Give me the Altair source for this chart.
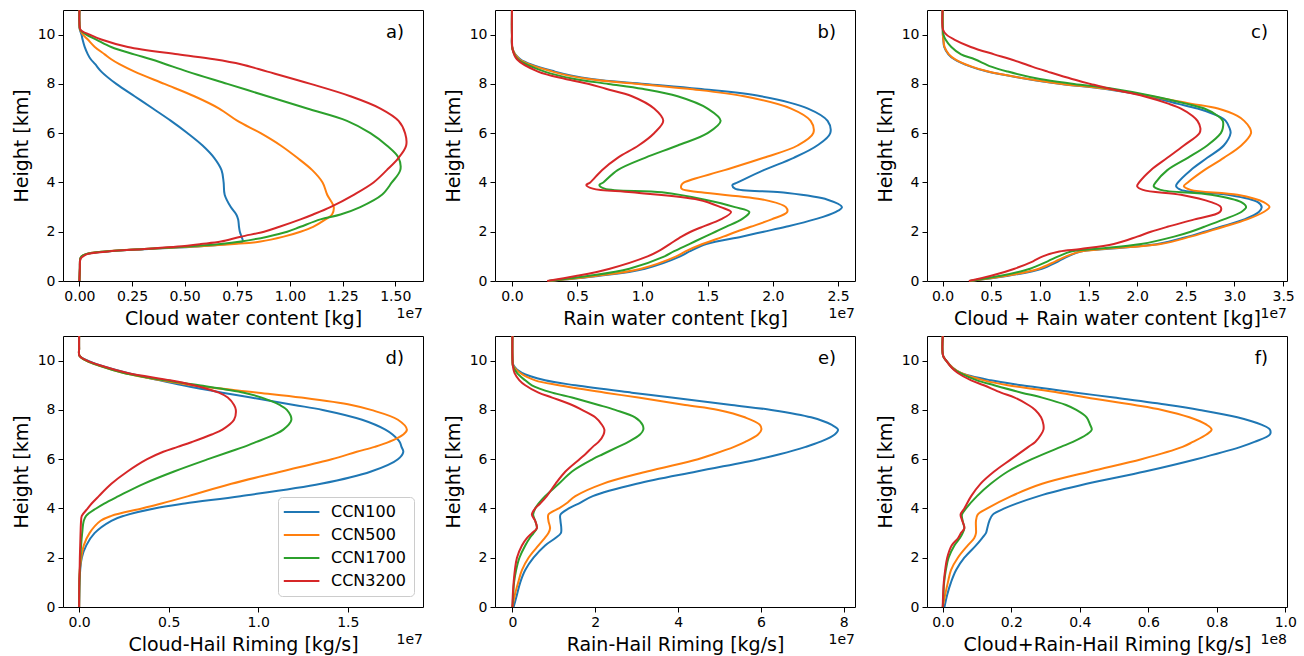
import altair as alt
import pandas as pd

SERIES = ["CCN100", "CCN500", "CCN1700", "CCN3200"]
COLORS = ["#1f77b4", "#ff7f0e", "#2ca02c", "#d62728"]

# ---------------- panel a: cloud water content (x 1e7 kg) ----------------
H_A = [11.0, 10.5, 10.2, 10.0, 9.8, 9.5, 9.2, 9.0, 8.8, 8.5, 8.0, 7.5, 7.0, 6.5, 6.0, 5.5, 5.0, 4.5,
       4.0, 3.5, 3.0, 2.7, 2.5, 2.2, 2.0, 1.8, 1.6, 1.5, 1.4, 1.3, 1.2, 1.1, 1.0, 0.9, 0.5, 0.0]
A_CCN100 = [0, 0, 0.002, 0.010, 0.015, 0.025, 0.040, 0.054, 0.075, 0.104, 0.175, 0.262, 0.349, 0.435,
            0.514, 0.585, 0.640, 0.675, 0.685, 0.690, 0.719, 0.745, 0.754, 0.758, 0.762, 0.770, 0.775,
            0.700, 0.560, 0.330, 0.130, 0.035, 0.010, 0.004, 0.002, 0]
A_CCN500 = [0, 0, 0.003, 0.017, 0.040, 0.073, 0.120, 0.151, 0.190, 0.262, 0.404, 0.546, 0.664, 0.751,
            0.861, 0.956, 1.035, 1.106, 1.155, 1.177, 1.208, 1.200, 1.169, 1.110, 1.050, 0.970, 0.860,
            0.735, 0.546, 0.309, 0.120, 0.033, 0.010, 0.004, 0.002, 0]
A_CCN1700 = [0, 0, 0.004, 0.033, 0.080, 0.151, 0.260, 0.340, 0.410, 0.514, 0.703, 0.893, 1.082, 1.271,
             1.382, 1.460, 1.516, 1.524, 1.484, 1.437, 1.334, 1.240, 1.145, 1.050, 0.987, 0.893, 0.767,
             0.672, 0.514, 0.309, 0.120, 0.035, 0.010, 0.004, 0.002, 0]
A_CCN3200 = [0, 0, 0.005, 0.049, 0.104, 0.230, 0.467, 0.640, 0.767, 0.893, 1.098, 1.287, 1.430, 1.516,
             1.547, 1.552, 1.516, 1.460, 1.397, 1.303, 1.192, 1.110, 1.050, 0.950, 0.877, 0.767, 0.672,
             0.577, 0.467, 0.309, 0.136, 0.040, 0.017, 0.005, 0.002, 0]

# ---------------- panel b: rain water content (x 1e7 kg) ----------------
H_B = [11.0, 10.0, 9.4, 9.0, 8.5, 8.2, 8.0, 7.8, 7.5, 7.0, 6.5, 6.0, 5.5, 5.0, 4.5, 4.0, 3.9, 3.75,
       3.6, 3.3, 3.0, 2.8, 2.5, 2.2, 2.0, 1.8, 1.5, 1.2, 1.0, 0.5, 0.2, 0.0]
B_CCN100 = [0, 0, 0.005, 0.064, 0.33, 0.61, 1.02, 1.43, 1.91, 2.27, 2.42, 2.44, 2.34, 2.16, 1.93, 1.73,
            1.69, 1.71, 2.06, 2.42, 2.53, 2.48, 2.32, 2.10, 1.93, 1.76, 1.49, 1.36, 1.29, 1.02, 0.66, 0.28]
B_CCN500 = [0, 0, 0.005, 0.056, 0.31, 0.585, 0.97, 1.35, 1.78, 2.14, 2.29, 2.31, 2.19, 1.93, 1.63, 1.32,
            1.30, 1.30, 1.45, 1.93, 2.10, 2.11, 1.99, 1.83, 1.72, 1.62, 1.46, 1.33, 1.26, 0.99, 0.64, 0.28]
B_CCN1700 = [0, 0, 0.005, 0.046, 0.25, 0.48, 0.74, 1.00, 1.27, 1.50, 1.60, 1.50, 1.27, 1.02, 0.81, 0.70,
             0.67, 0.71, 1.15, 1.48, 1.71, 1.82, 1.76, 1.64, 1.56, 1.48, 1.36, 1.24, 1.17, 0.90, 0.58, 0.28]
B_CCN3200 = [0, 0, 0.005, 0.038, 0.20, 0.41, 0.59, 0.72, 0.92, 1.09, 1.16, 1.09, 0.97, 0.81, 0.69, 0.60,
             0.57, 0.62, 0.92, 1.43, 1.60, 1.68, 1.60, 1.46, 1.37, 1.30, 1.21, 1.12, 1.04, 0.75, 0.49, 0.27]

# ---------------- panel c: cloud + rain water content (x 1e7 kg) ----------------
H_C = [11.0, 10.2, 10.0, 9.8, 9.5, 9.2, 9.0, 8.7, 8.5, 8.2, 8.0, 7.8, 7.5, 7.2, 7.0, 6.7, 6.5, 6.2, 6.0,
       5.5, 5.0, 4.5, 4.0, 3.85, 3.7, 3.5, 3.2, 3.0, 2.8, 2.5, 2.2, 2.0, 1.8, 1.5, 1.3, 1.2, 1.0, 0.8,
       0.5, 0.2, 0.0]
C_CCN100 = [0, 0.002, 0.003, 0.008, 0.017, 0.06, 0.12, 0.29, 0.46, 0.87, 1.22, 1.66, 2.11, 2.41, 2.62,
            2.83, 2.91, 2.95, 2.96, 2.89, 2.72, 2.55, 2.42, 2.40, 2.45, 2.93, 3.24, 3.28, 3.25, 3.10,
            2.86, 2.69, 2.52, 2.21, 1.68, 1.42, 1.29, 1.19, 1.02, 0.66, 0.28]
C_CCN500 = [0, 0.002, 0.003, 0.008, 0.02, 0.065, 0.13, 0.30, 0.47, 0.88, 1.23, 1.68, 2.14, 2.55, 2.83,
            3.03, 3.10, 3.16, 3.17, 3.07, 2.89, 2.69, 2.52, 2.48, 2.55, 3.03, 3.30, 3.36, 3.30, 3.13,
            2.89, 2.72, 2.55, 2.24, 1.66, 1.42, 1.27, 1.16, 0.99, 0.64, 0.28]
C_CCN1700 = [0, 0.003, 0.01, 0.03, 0.09, 0.19, 0.33, 0.50, 0.67, 1.00, 1.35, 1.75, 2.17, 2.50, 2.69,
             2.83, 2.88, 2.88, 2.86, 2.72, 2.52, 2.31, 2.19, 2.17, 2.24, 2.76, 3.07, 3.12, 3.07, 2.89,
             2.69, 2.55, 2.38, 2.04, 1.56, 1.32, 1.19, 1.08, 0.90, 0.58, 0.28]
C_CCN3200 = [0, 0.005, 0.04, 0.12, 0.29, 0.53, 0.70, 0.92, 1.08, 1.33, 1.52, 1.72, 2.07, 2.32, 2.45,
             2.57, 2.62, 2.65, 2.64, 2.48, 2.31, 2.14, 2.02, 2.00, 2.06, 2.45, 2.76, 2.86, 2.85, 2.59,
             2.31, 2.14, 2.00, 1.76, 1.42, 1.20, 1.03, 0.93, 0.74, 0.49, 0.27]

# ---------------- panel d: cloud-hail riming (x 1e7 kg/s) ----------------
H_D = [11.0, 10.5, 10.2, 10.0, 9.8, 9.5, 9.2, 9.0, 8.7, 8.5, 8.2, 8.0, 7.6, 7.2, 7.0, 6.7, 6.5, 6.3, 6.0,
       5.5, 5.0, 4.5, 4.2, 4.0, 3.7, 3.5, 3.0, 2.5, 2.0, 1.5, 1.0, 0.0]
D_CCN100 = [0, 0, 0.002, 0.048, 0.12, 0.27, 0.45, 0.58, 0.80, 0.96, 1.20, 1.36, 1.58, 1.71, 1.75, 1.79,
            1.80, 1.81, 1.78, 1.63, 1.35, 0.90, 0.59, 0.42, 0.25, 0.18, 0.086, 0.04, 0.015, 0.006, 0.002, 0]
D_CCN500 = [0, 0, 0.002, 0.04, 0.11, 0.25, 0.46, 0.63, 1.00, 1.24, 1.52, 1.63, 1.78, 1.83, 1.81, 1.73,
            1.65, 1.55, 1.41, 1.13, 0.85, 0.61, 0.46, 0.35, 0.18, 0.12, 0.058, 0.026, 0.012, 0.004, 0.001, 0]
D_CCN1700 = [0, 0, 0.002, 0.04, 0.11, 0.25, 0.48, 0.67, 0.92, 1.02, 1.12, 1.16, 1.185, 1.14, 1.09, 0.99,
             0.92, 0.84, 0.72, 0.53, 0.36, 0.22, 0.14, 0.095, 0.039, 0.026, 0.017, 0.011, 0.007, 0.004,
             0.002, 0]
D_CCN3200 = [0, 0, 0.002, 0.045, 0.12, 0.27, 0.51, 0.64, 0.78, 0.83, 0.865, 0.875, 0.865, 0.80, 0.74, 0.63,
             0.55, 0.47, 0.38, 0.27, 0.18, 0.11, 0.07, 0.048, 0.015, 0.011, 0.008, 0.006, 0.004, 0.003,
             0.001, 0]

# ---------------- panel e: rain-hail riming (x 1e7 kg/s) ----------------
H_E = [11.0, 10.0, 9.8, 9.5, 9.2, 9.0, 8.7, 8.5, 8.2, 8.0, 7.7, 7.4, 7.2, 7.0, 6.7, 6.5, 6.2, 6.0, 5.5,
       5.0, 4.5, 4.2, 4.0, 3.75, 3.5, 3.2, 3.0, 2.8, 2.5, 2.0, 1.5, 1.0, 0.5, 0.0]
E_CCN100 = [0, 0.005, 0.03, 0.23, 0.79, 1.52, 2.88, 3.84, 5.29, 6.25, 7.21, 7.70, 7.86, 7.78, 7.42, 7.08,
            6.45, 5.95, 4.45, 3.00, 1.94, 1.60, 1.36, 1.16, 1.16, 1.18, 1.17, 1.04, 0.79, 0.51, 0.31,
            0.19, 0.11, 0.03]
E_CCN500 = [0, 0.005, 0.02, 0.19, 0.55, 1.12, 2.24, 3.04, 4.17, 4.97, 5.61, 5.97, 6.01, 5.93, 5.62, 5.35,
            4.85, 4.48, 3.25, 2.18, 1.52, 1.30, 1.12, 0.87, 0.87, 0.91, 0.87, 0.78, 0.63, 0.39, 0.23,
            0.14, 0.06, 0]
E_CCN1700 = [0, 0.003, 0.01, 0.11, 0.31, 0.47, 0.96, 1.44, 2.08, 2.48, 2.96, 3.14, 3.16, 3.08, 2.80, 2.55,
             2.18, 1.94, 1.44, 1.12, 0.79, 0.63, 0.55, 0.50, 0.55, 0.59, 0.51, 0.42, 0.31, 0.17, 0.09,
             0.04, 0.02, 0]
E_CCN3200 = [0, 0.003, 0.01, 0.05, 0.17, 0.31, 0.63, 0.96, 1.44, 1.68, 2.00, 2.16, 2.22, 2.20, 2.08, 1.94,
             1.76, 1.62, 1.28, 1.04, 0.83, 0.67, 0.55, 0.47, 0.55, 0.59, 0.47, 0.35, 0.23, 0.11, 0.06,
             0.03, 0.01, 0]

# ---------------- panel f: cloud+rain-hail riming (x 1e8 kg/s) ----------------
H_F = [11.0, 10.2, 10.0, 9.7, 9.5, 9.2, 9.0, 8.7, 8.5, 8.2, 8.0, 7.7, 7.4, 7.2, 7.0, 6.7, 6.5, 6.0, 5.5,
       5.0, 4.5, 4.0, 3.75, 3.5, 3.2, 3.0, 2.8, 2.5, 2.0, 1.5, 1.0, 0.5, 0.0]
F_CCN100 = [0, 0.001, 0.01, 0.03, 0.053, 0.14, 0.23, 0.39, 0.50, 0.66, 0.75, 0.86, 0.93, 0.955, 0.955,
            0.91, 0.87, 0.74, 0.59, 0.42, 0.28, 0.18, 0.146, 0.136, 0.13, 0.126, 0.115, 0.097, 0.063,
            0.039, 0.024, 0.013, 0.005]
F_CCN500 = [0, 0.001, 0.01, 0.03, 0.053, 0.12, 0.19, 0.34, 0.42, 0.56, 0.64, 0.72, 0.77, 0.785, 0.77,
            0.73, 0.70, 0.58, 0.43, 0.29, 0.20, 0.13, 0.102, 0.097, 0.097, 0.097, 0.092, 0.073, 0.044,
            0.024, 0.015, 0.007, 0]
F_CCN1700 = [0, 0.001, 0.01, 0.028, 0.05, 0.10, 0.15, 0.23, 0.29, 0.36, 0.39, 0.42, 0.43, 0.435, 0.42,
             0.38, 0.345, 0.26, 0.19, 0.14, 0.10, 0.068, 0.056, 0.058, 0.063, 0.058, 0.05, 0.034, 0.017,
             0.009, 0.004, 0.002, 0]
F_CCN3200 = [0, 0.001, 0.01, 0.027, 0.044, 0.083, 0.12, 0.17, 0.21, 0.25, 0.27, 0.287, 0.294, 0.294,
             0.287, 0.27, 0.25, 0.20, 0.15, 0.11, 0.083, 0.063, 0.052, 0.057, 0.063, 0.053, 0.045, 0.026,
             0.013, 0.007, 0.003, 0.001, 0]

Y_TICKS = [0, 2, 4, 6, 8, 10]
W, H = 360, 271
FONT = "DejaVu Sans"


def make_df(heights, cols):
    rows = []
    for s, vals in zip(SERIES, cols):
        assert len(vals) == len(heights), (s, len(vals), len(heights))
        for h, v in zip(heights, vals):
            rows.append({"series": s, "h": h, "v": v})
    return pd.DataFrame(rows)


def panel(df, xdom, xticks, fmt, xtitle, tag, expo, legend=None):
    lines = alt.Chart(df).mark_line(strokeWidth=2, interpolate="catmull-rom").encode(
        x=alt.X("v:Q",
                scale=alt.Scale(domain=xdom, nice=False, zero=False),
                axis=alt.Axis(values=xticks, format=fmt, title=xtitle)),
        y=alt.Y("h:Q",
                scale=alt.Scale(domain=[0, 11], nice=False, zero=False),
                axis=alt.Axis(values=Y_TICKS, format="d", title="Height [km]")),
        color=alt.Color("series:N", scale=alt.Scale(domain=SERIES, range=COLORS),
                        legend=legend),
        order=alt.Order("h:Q"),
    )
    lab = alt.Chart(pd.DataFrame({"t": [tag]})).mark_text(
        font=FONT, fontSize=18, align="right", baseline="alphabetic", color="black"
    ).encode(x=alt.value(W - 19), y=alt.value(28), text="t:N")
    off = alt.Chart(pd.DataFrame({"t": [expo]})).mark_text(
        font=FONT, fontSize=14, align="right", baseline="alphabetic", color="black"
    ).encode(x=alt.value(W), y=alt.value(H + 37), text="t:N")
    return alt.layer(lines, lab, off).properties(width=W, height=H)


legend_d = alt.Legend(
    orient="none", legendX=215, legendY=161, title=None,
    symbolType="M-2.3,0L6.6,0", symbolSize=64, symbolStrokeWidth=2,
    labelFont=FONT, labelFontSize=16, labelColor="black", labelOffset=30,
    padding=7, rowPadding=7, strokeColor="#cccccc", fillColor="white", cornerRadius=4,
)

pa = panel(make_df(H_A, [A_CCN100, A_CCN500, A_CCN1700, A_CCN3200]), [-0.078, 1.632],
           [0, 0.25, 0.5, 0.75, 1.0, 1.25, 1.5], ".2f", "Cloud water content [kg]", "a)", "1e7")
pb = panel(make_df(H_B, [B_CCN100, B_CCN500, B_CCN1700, B_CCN3200]), [-0.13, 2.63],
           [0, 0.5, 1.0, 1.5, 2.0, 2.5], ".1f", "Rain water content [kg]", "b)", "1e7")
pc = panel(make_df(H_C, [C_CCN100, C_CCN500, C_CCN1700, C_CCN3200]), [-0.16, 3.54],
           [0, 0.5, 1.0, 1.5, 2.0, 2.5, 3.0, 3.5], ".1f", "Cloud + Rain water content [kg]", "c)", "1e7")
pd_ = panel(make_df(H_D, [D_CCN100, D_CCN500, D_CCN1700, D_CCN3200]), [-0.09, 1.92],
            [0, 0.5, 1.0, 1.5], ".1f", "Cloud-Hail Riming [kg/s]", "d)", "1e7", legend=legend_d)
pe = panel(make_df(H_E, [E_CCN100, E_CCN500, E_CCN1700, E_CCN3200]), [-0.42, 8.27],
           [0, 2, 4, 6, 8], "d", "Rain-Hail Riming [kg/s]", "e)", "1e7")
pf = panel(make_df(H_F, [F_CCN100, F_CCN500, F_CCN1700, F_CCN3200]), [-0.046, 1.005],
           [0, 0.2, 0.4, 0.6, 0.8, 1.0], ".1f", "Cloud+Rain-Hail Riming [kg/s]", "f)", "1e8")

chart = alt.concat(
    pa, pb, pc, pd_, pe, pf, columns=3,
    spacing={"row": 55, "column": 72}, bounds="flush",
).resolve_scale(color="independent").resolve_legend(color="independent").properties(
    padding={"left": 11, "top": 5, "right": 5, "bottom": 2},
    background="white",
).configure_view(
    stroke="black", strokeWidth=1
).configure_axis(
    labelFont=FONT, labelFontSize=14, labelColor="black",
    titleFont=FONT, titleFontSize=19, titleFontWeight="normal", titleColor="black",
    tickColor="black", tickSize=5, tickWidth=1, labelPadding=3, titlePadding=6,
    domain=False, grid=False, labelFlush=False, labelOverlap=False,
)

chart.save("out.html", embed_options={"renderer": "svg", "actions": False})
